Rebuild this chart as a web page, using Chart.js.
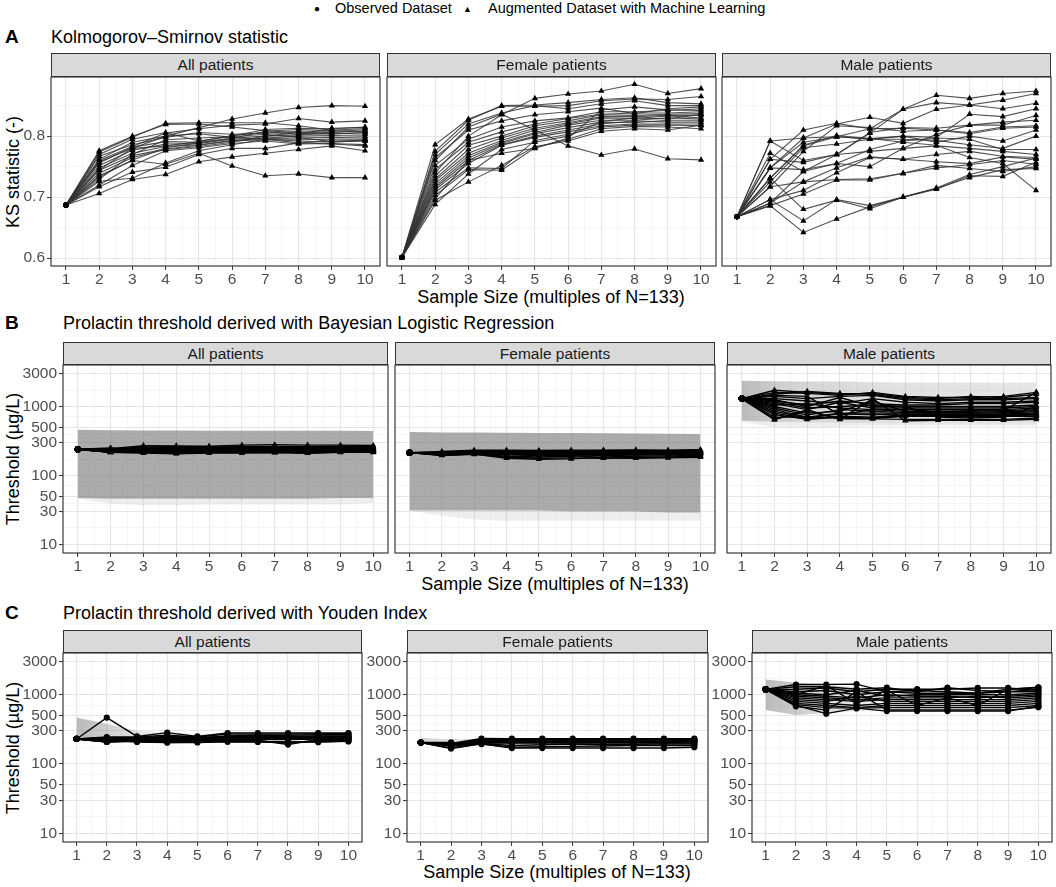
<!DOCTYPE html>
<html lang="en">
<head>
  <title>KS statistic and prolactin thresholds by sample size</title>
  <meta charset="UTF-8">
  <script src="https://cdn.jsdelivr.net/npm/chart.js@4.4.1/dist/chart.umd.min.js"></script>
  <style>
    * { margin: 0; padding: 0; box-sizing: border-box; }
    body { background: white; font-family: "Liberation Sans", Arial, sans-serif; }
    #page { position: relative; width: 1056px; height: 887px; overflow: hidden; }
    .txt { position: absolute; white-space: nowrap; color: #000; }
    .tag { font-weight: bold; font-size: 19px; line-height: 22px; }
    .title { font-size: 18px; line-height: 22px; }
    .axt { font-size: 18px; line-height: 22px; transform: translate(-50%, -50%); }
    .yaxt { font-size: 18px; line-height: 22px; transform: translate(-50%, -50%) rotate(-90deg); }
    .legend { font-size: 14.5px; line-height: 16px; }
    .strip { position: absolute; background: #d9d9d9; border: 1px solid #333; font-size: 15.5px; color: #1a1a1a; text-align: center; z-index: 2; }
    canvas { position: absolute; }
  </style>
</head>
<body>
<div id="page">
  <div class="txt legend" style="left:314px; top:0px;"><span style="font-size:10px; position:relative; top:-1px;">●</span></div>
  <div class="txt legend" style="left:335px; top:0px;">Observed Dataset</div>
  <div class="txt legend" style="left:463px; top:0px;"><span style="font-size:9px; position:relative; top:-1px;">▲</span></div>
  <div class="txt legend" style="left:488px; top:0px;">Augmented Dataset with Machine Learning</div>

  <div class="txt tag" style="left:5px; top:26px;">A</div>
  <div class="txt title" style="left:51px; top:26px;">Kolmogorov–Smirnov statistic</div>
  <div class="txt tag" style="left:5px; top:312px;">B</div>
  <div class="txt title" style="left:63px; top:312px;">Prolactin threshold derived with Bayesian Logistic Regression</div>
  <div class="txt tag" style="left:5px; top:602px;">C</div>
  <div class="txt title" style="left:63px; top:602px;">Prolactin threshold derived with Youden Index</div>

  <div class="txt axt" style="left:551px; top:297px;">Sample Size (multiples of N=133)</div>
  <div class="txt axt" style="left:555px; top:584px;">Sample Size (multiples of N=133)</div>
  <div class="txt axt" style="left:557px; top:872px;">Sample Size (multiples of N=133)</div>

  <div class="txt yaxt" style="left:13px; top:172px;">KS statistic (-)</div>
  <div class="txt yaxt" style="left:13px; top:459px;">Threshold (µg/L)</div>
  <div class="txt yaxt" style="left:13px; top:748px;">Threshold (µg/L)</div>
</div>

<script>
  /************************************************************************
                               Data
  *************************************************************************/
  const sampleSizes = [1, 2, 3, 4, 5, 6, 7, 8, 9, 10];
  const ksTicks = [0.6, 0.7, 0.8];
  const thresholdTicks = [10, 30, 50, 100, 300, 500, 1000, 3000];
  const facetNames = ['All patients', 'Female patients', 'Male patients'];

  // A: KS statistic. Observed value at 1, augmented runs at 2..10
  const ksAllObs = 0.687;
  const ksAll = [
    [0.745, 0.780, 0.800, 0.814, 0.828, 0.838, 0.847, 0.850, 0.849],
    [0.760, 0.783, 0.805, 0.812, 0.818, 0.820, 0.829, 0.823, 0.825],
    [0.735, 0.760, 0.754, 0.772, 0.751, 0.735, 0.738, 0.732, 0.732],
    [0.706, 0.729, 0.737, 0.758, 0.766, 0.772, 0.778, 0.784, 0.776],
    [0.717, 0.741, 0.749, 0.770, 0.780, 0.780, 0.789, 0.787, 0.784],
    [0.726, 0.731, 0.756, 0.776, 0.786, 0.795, 0.792, 0.790, 0.793],
    [0.774, 0.798, 0.821, 0.822, 0.822, 0.822, 0.817, 0.810, 0.812],
    [0.776, 0.800, 0.819, 0.820, 0.815, 0.809, 0.805, 0.803, 0.806],
    [0.770, 0.795, 0.806, 0.792, 0.800, 0.811, 0.813, 0.812, 0.815],
    [0.767, 0.786, 0.798, 0.806, 0.803, 0.805, 0.808, 0.808, 0.810],
    [0.756, 0.782, 0.791, 0.790, 0.797, 0.800, 0.802, 0.805, 0.803],
    [0.752, 0.777, 0.787, 0.788, 0.795, 0.797, 0.800, 0.801, 0.800],
    [0.748, 0.772, 0.783, 0.786, 0.793, 0.796, 0.797, 0.798, 0.797],
    [0.744, 0.768, 0.779, 0.785, 0.792, 0.794, 0.794, 0.795, 0.795],
    [0.739, 0.765, 0.778, 0.783, 0.790, 0.800, 0.806, 0.806, 0.808],
    [0.733, 0.761, 0.781, 0.789, 0.796, 0.808, 0.811, 0.809, 0.806],
    [0.729, 0.770, 0.794, 0.797, 0.799, 0.803, 0.798, 0.791, 0.792],
    [0.762, 0.790, 0.800, 0.804, 0.798, 0.795, 0.789, 0.792, 0.793],
    [0.758, 0.780, 0.784, 0.791, 0.801, 0.806, 0.803, 0.813, 0.814],
    [0.720, 0.752, 0.776, 0.781, 0.788, 0.792, 0.787, 0.788, 0.786]
  ];

  const ksFemaleObs = 0.601;
  const ksFemale = [
    [0.740, 0.800, 0.835, 0.862, 0.869, 0.874, 0.885, 0.870, 0.878],
    [0.760, 0.815, 0.836, 0.810, 0.784, 0.769, 0.779, 0.763, 0.761],
    [0.786, 0.828, 0.849, 0.849, 0.850, 0.858, 0.861, 0.860, 0.865],
    [0.775, 0.826, 0.850, 0.851, 0.855, 0.860, 0.863, 0.855, 0.853],
    [0.770, 0.820, 0.838, 0.850, 0.845, 0.853, 0.858, 0.850, 0.850],
    [0.765, 0.810, 0.825, 0.835, 0.840, 0.846, 0.837, 0.845, 0.848],
    [0.752, 0.795, 0.815, 0.825, 0.830, 0.840, 0.840, 0.842, 0.845],
    [0.745, 0.790, 0.807, 0.820, 0.829, 0.836, 0.838, 0.838, 0.840],
    [0.735, 0.785, 0.800, 0.817, 0.825, 0.835, 0.834, 0.836, 0.837],
    [0.730, 0.778, 0.797, 0.813, 0.822, 0.832, 0.832, 0.834, 0.834],
    [0.727, 0.772, 0.793, 0.810, 0.820, 0.830, 0.829, 0.833, 0.830],
    [0.722, 0.768, 0.790, 0.806, 0.818, 0.826, 0.826, 0.830, 0.828],
    [0.718, 0.764, 0.788, 0.804, 0.814, 0.823, 0.822, 0.826, 0.826],
    [0.715, 0.760, 0.786, 0.800, 0.810, 0.820, 0.825, 0.823, 0.823],
    [0.712, 0.755, 0.785, 0.798, 0.807, 0.817, 0.820, 0.820, 0.820],
    [0.708, 0.748, 0.747, 0.793, 0.803, 0.815, 0.818, 0.818, 0.817],
    [0.703, 0.745, 0.744, 0.781, 0.795, 0.812, 0.816, 0.815, 0.812],
    [0.695, 0.725, 0.752, 0.783, 0.792, 0.808, 0.812, 0.810, 0.818],
    [0.688, 0.738, 0.778, 0.790, 0.800, 0.824, 0.830, 0.828, 0.836],
    [0.698, 0.760, 0.772, 0.780, 0.797, 0.843, 0.848, 0.843, 0.842]
  ];

  const ksMaleObs = 0.668;
  const ksMale = [
    [0.690, 0.742, 0.770, 0.805, 0.844, 0.867, 0.862, 0.870, 0.874],
    [0.731, 0.784, 0.799, 0.812, 0.844, 0.855, 0.851, 0.859, 0.870],
    [0.748, 0.797, 0.820, 0.831, 0.821, 0.844, 0.851, 0.845, 0.854],
    [0.792, 0.797, 0.799, 0.795, 0.800, 0.798, 0.836, 0.832, 0.845],
    [0.792, 0.760, 0.770, 0.806, 0.814, 0.813, 0.818, 0.818, 0.834],
    [0.772, 0.742, 0.755, 0.750, 0.780, 0.803, 0.818, 0.823, 0.826],
    [0.762, 0.810, 0.821, 0.812, 0.813, 0.810, 0.806, 0.815, 0.817],
    [0.717, 0.775, 0.817, 0.814, 0.808, 0.810, 0.804, 0.813, 0.815],
    [0.731, 0.785, 0.801, 0.796, 0.800, 0.790, 0.800, 0.792, 0.810],
    [0.725, 0.781, 0.787, 0.795, 0.795, 0.793, 0.786, 0.780, 0.800],
    [0.748, 0.745, 0.755, 0.778, 0.792, 0.797, 0.795, 0.778, 0.778],
    [0.762, 0.757, 0.770, 0.775, 0.780, 0.784, 0.780, 0.775, 0.770],
    [0.717, 0.725, 0.748, 0.766, 0.762, 0.770, 0.775, 0.767, 0.765],
    [0.696, 0.711, 0.740, 0.765, 0.762, 0.758, 0.755, 0.766, 0.762],
    [0.686, 0.705, 0.728, 0.728, 0.739, 0.748, 0.753, 0.760, 0.754],
    [0.690, 0.725, 0.729, 0.730, 0.739, 0.752, 0.747, 0.742, 0.750],
    [0.731, 0.680, 0.695, 0.681, 0.700, 0.714, 0.732, 0.745, 0.747],
    [0.696, 0.661, 0.696, 0.686, 0.700, 0.713, 0.735, 0.734, 0.757],
    [0.686, 0.642, 0.664, 0.684, 0.700, 0.715, 0.737, 0.750, 0.764],
    [0.748, 0.790, 0.799, 0.796, 0.790, 0.785, 0.765, 0.755, 0.711]
  ];

  // B: threshold from Bayesian logistic regression (µg/L)
  const blrAllObs = 240;
  const blrAll = [
    [245, 270, 268, 265, 275, 278, 275, 275, 272],
    [240, 258, 262, 260, 262, 262, 262, 265, 260],
    [236, 250, 255, 252, 250, 252, 255, 258, 255],
    [232, 245, 248, 246, 246, 248, 250, 252, 250],
    [230, 242, 244, 242, 243, 244, 246, 248, 246],
    [228, 238, 240, 240, 240, 240, 242, 244, 242],
    [226, 235, 236, 236, 236, 238, 240, 240, 240],
    [225, 232, 233, 234, 234, 236, 236, 238, 236],
    [224, 230, 230, 232, 232, 233, 234, 236, 234],
    [222, 228, 228, 230, 230, 231, 232, 234, 232],
    [221, 226, 226, 228, 228, 229, 230, 232, 230],
    [220, 224, 224, 226, 226, 227, 228, 230, 228],
    [220, 222, 222, 224, 224, 225, 226, 228, 226],
    [219, 220, 220, 222, 222, 223, 224, 226, 225],
    [218, 218, 218, 220, 220, 222, 222, 224, 224],
    [218, 217, 215, 218, 218, 220, 220, 222, 222],
    [217, 216, 212, 216, 216, 218, 216, 220, 220],
    [216, 214, 208, 214, 214, 216, 212, 218, 218],
    [216, 212, 206, 212, 212, 214, 210, 216, 216],
    [250, 235, 245, 255, 250, 258, 258, 262, 264]
  ];
  const blrAllHigh = [460, 452, 448, 447, 446, 446, 445, 444, 443, 440];
  const blrAllLow = [47, 46, 46, 46, 46, 46, 46, 46, 47, 47];
  const blrAllTail = [46, 39, 37, 37, 38, 38, 38, 38, 38, 40];

  const blrFemaleObs = 214;
  const blrFemale = [
    [222, 232, 232, 230, 232, 233, 235, 232, 237],
    [218, 228, 228, 226, 228, 229, 230, 228, 232],
    [216, 225, 225, 224, 225, 226, 226, 225, 228],
    [214, 222, 222, 222, 222, 223, 224, 222, 225],
    [212, 220, 220, 220, 220, 220, 221, 220, 222],
    [210, 218, 218, 217, 218, 218, 218, 218, 220],
    [208, 216, 215, 215, 216, 215, 216, 216, 218],
    [206, 214, 213, 213, 214, 212, 214, 214, 215],
    [204, 212, 211, 210, 212, 210, 212, 212, 212],
    [202, 210, 208, 206, 208, 206, 208, 208, 210],
    [200, 208, 204, 200, 204, 200, 204, 204, 206],
    [198, 206, 190, 185, 190, 195, 198, 200, 202],
    [196, 204, 178, 172, 174, 185, 190, 192, 195],
    [195, 202, 185, 178, 180, 178, 182, 185, 190],
    [212, 215, 200, 195, 198, 180, 178, 180, 184]
  ];
  const blrFemaleHigh = [425, 420, 418, 416, 414, 412, 410, 406, 402, 398];
  const blrFemaleLow = [31, 31, 31, 31, 31, 30, 30, 30, 29, 29];
  const blrFemaleTail = [31, 26, 23, 22, 22, 22, 22, 22, 22, 22];

  const blrMaleObs = 1300;
  const blrMale = [
    [1720, 1600, 1500, 1550, 1350, 1300, 1400, 1350, 1500],
    [1600, 1550, 1450, 1600, 1400, 1350, 1350, 1400, 1600],
    [1500, 1650, 1550, 1500, 1300, 1250, 1300, 1300, 1350],
    [1400, 1300, 1400, 1450, 1250, 1200, 1250, 1250, 1300],
    [1300, 1200, 1100, 1300, 1150, 1100, 1150, 1150, 1200],
    [1200, 1050, 1200, 1100, 1050, 1050, 1100, 1100, 1150],
    [1150, 950, 1000, 1050, 1000, 1000, 1000, 1000, 1050],
    [1100, 900, 1150, 950, 950, 950, 950, 950, 1000],
    [1050, 1100, 950, 900, 900, 900, 900, 900, 950],
    [1000, 800, 850, 1200, 850, 850, 850, 870, 900],
    [950, 750, 900, 850, 820, 820, 820, 840, 870],
    [900, 700, 800, 800, 800, 800, 800, 810, 840],
    [850, 680, 780, 760, 780, 780, 780, 780, 800],
    [800, 660, 720, 700, 760, 760, 760, 760, 770],
    [760, 650, 700, 680, 740, 740, 740, 740, 750],
    [700, 700, 680, 670, 720, 720, 720, 720, 720],
    [660, 850, 660, 660, 650, 650, 650, 650, 680],
    [640, 900, 650, 1300, 620, 630, 630, 630, 650],
    [1250, 1000, 1350, 1000, 1000, 700, 680, 700, 1000],
    [1450, 1400, 760, 900, 850, 900, 880, 880, 1600]
  ];
  const blrMaleHigh = [2350, 2320, 2300, 2300, 2250, 2220, 2200, 2200, 2200, 2200];
  const blrMaleLow = [620, 600, 590, 580, 570, 565, 560, 560, 560, 560];
  const blrMaleTail = [600, 500, 500, 510, 520, 520, 520, 520, 520, 520];

  // C: threshold from the Youden index (µg/L)
  const youAllObs = 230;
  const youAll = [
    [467, 250, 284, 250, 280, 280, 280, 280, 280],
    [245, 245, 260, 245, 270, 270, 270, 275, 275],
    [240, 240, 250, 240, 255, 260, 260, 265, 265],
    [235, 235, 245, 238, 250, 250, 250, 255, 255],
    [230, 232, 240, 235, 245, 245, 245, 250, 250],
    [225, 230, 235, 232, 240, 240, 240, 245, 245],
    [220, 228, 230, 230, 235, 235, 235, 240, 240],
    [215, 225, 225, 228, 230, 230, 230, 235, 235],
    [212, 222, 220, 225, 225, 225, 225, 230, 230],
    [208, 220, 215, 222, 220, 220, 191, 225, 225],
    [208, 215, 210, 215, 215, 215, 200, 220, 220],
    [210, 212, 205, 208, 212, 210, 205, 210, 215],
    [225, 208, 205, 205, 210, 208, 210, 207, 212]
  ];
  const youAllHigh = [470, 380, 300, 285, 275, 270, 270, 270, 270, 270];
  const youAllLow = [225, 215, 205, 200, 200, 205, 205, 195, 205, 210];

  const youFemaleObs = 204;
  const youFemale = [
    [198, 233, 232, 232, 232, 232, 232, 232, 232],
    [195, 225, 225, 228, 226, 228, 226, 228, 228],
    [192, 220, 220, 222, 220, 222, 222, 222, 222],
    [190, 215, 215, 215, 215, 215, 215, 215, 218],
    [187, 210, 210, 210, 210, 210, 210, 210, 212],
    [185, 205, 205, 205, 205, 205, 205, 205, 208],
    [180, 200, 200, 200, 200, 200, 200, 200, 200],
    [170, 198, 185, 190, 195, 190, 192, 195, 195],
    [168, 196, 170, 170, 170, 170, 170, 170, 175],
    [205, 194, 175, 178, 180, 182, 185, 185, 185]
  ];
  const youFemaleHigh = [240, 228, 232, 232, 232, 232, 232, 232, 232, 232];
  const youFemaleLow = [200, 172, 188, 180, 180, 180, 180, 180, 180, 180];

  const youMaleObs = 1192;
  const youMale = [
    [1400, 1400, 1420, 1100, 1150, 1100, 1050, 1200, 1260],
    [1300, 1300, 1200, 1260, 1100, 1260, 1150, 1100, 1200],
    [1200, 1250, 1100, 1200, 1200, 1200, 1250, 1250, 1150],
    [1100, 1150, 1000, 1100, 1050, 1050, 1050, 1100, 1100],
    [1050, 1000, 1150, 950, 1000, 1000, 1000, 1000, 1050],
    [1000, 950, 900, 1000, 950, 950, 900, 950, 1000],
    [950, 900, 850, 900, 900, 900, 950, 900, 950],
    [900, 850, 800, 850, 850, 850, 850, 850, 900],
    [850, 800, 950, 800, 800, 800, 800, 800, 850],
    [800, 750, 700, 750, 750, 750, 750, 750, 800],
    [750, 700, 650, 700, 700, 700, 700, 700, 750],
    [720, 650, 640, 650, 650, 650, 650, 650, 700],
    [700, 533, 640, 580, 580, 580, 580, 580, 680],
    [680, 600, 1100, 600, 600, 600, 600, 600, 660],
    [1000, 1350, 750, 1150, 700, 900, 700, 1200, 1280]
  ];
  const youMaleHigh = [1660, 1500, 1350, 1300, 1250, 1250, 1250, 1250, 1250, 1250];
  const youMaleLow = [600, 510, 540, 580, 580, 580, 580, 580, 600, 620];

  /************************************************************************
                               Helpers
  *************************************************************************/
  Chart.defaults.font.family = '"Liberation Sans", Arial, sans-serif';

  // major breaks plus ggplot-style minor breaks halfway between them
  function withMinor(major, log, min, max) {
    const mid = (a, b) => log ? Math.sqrt(a * b) : (a + b) / 2;
    const ext = (a, b) => log ? a * a / b : 2 * a - b;
    const out = [{ value: mid(major[0], ext(major[0], major[1])), minor: true }];
    major.forEach((v, i) => {
      out.push({ value: v });
      if (i < major.length - 1) out.push({ value: mid(v, major[i + 1]), minor: true });
    });
    const n = major.length;
    out.push({ value: mid(major[n - 1], ext(major[n - 1], major[n - 2])), minor: true });
    return out.filter(t => t.value >= min && t.value <= max);
  }

  function gridOpts(drawTicks) {
    return {
      color: c => c.tick && c.tick.minor ? '#f1f1f1' : '#e5e5e5',
      lineWidth: c => c.tick && c.tick.minor ? 0.7 : 1.1,
      drawTicks: drawTicks,
      tickLength: 4,
      tickWidth: 1,
      tickColor: c => c.tick && c.tick.minor ? 'rgba(0,0,0,0)' : '#333'
    };
  }

  function tickLabel(v, i, ticks) {
    return ticks[i].minor ? '' : String(v);
  }

  function runDatasets(obs, runs, style) {
    return runs.map(r => ({
      data: [obs].concat(r).map((y, i) => ({ x: sampleSizes[i], y: y })),
      borderColor: style.line,
      borderWidth: style.width,
      pointStyle: c => c.dataIndex === 0 ? 'circle' : style.marker,
      pointRadius: c => c.dataIndex === 0 ? style.obsR : style.r,
      pointBackgroundColor: '#000',
      pointBorderWidth: 0,
      pointHoverRadius: 0,
      fill: false
    }));
  }

  // horizontal fade for the interval ribbons
  function fade(stops) {
    return c => {
      const ch = c.chart;
      const x = ch.scales && ch.scales.x;
      if (!ch.chartArea || !x) return stops[0][1];
      const x0 = x.getPixelForValue(sampleSizes[0]);
      const x1 = x.getPixelForValue(sampleSizes[sampleSizes.length - 1]);
      const g = ch.ctx.createLinearGradient(x0, 0, x1, 0);
      stops.forEach(s => g.addColorStop(s[0], s[1]));
      return g;
    };
  }

  function band(low, high, color) {
    const pts = arr => arr.map((y, i) => ({ x: sampleSizes[i], y: y }));
    return [
      { data: pts(low), borderWidth: 0, borderColor: 'rgba(0,0,0,0)', pointRadius: 0, fill: false },
      { data: pts(high), borderWidth: 0, borderColor: 'rgba(0,0,0,0)', pointRadius: 0, fill: '-1', backgroundColor: color }
    ];
  }

  const panelBox = {
    id: 'panelBox',
    afterDatasetsDraw(chart) {
      const { ctx, chartArea: a } = chart;
      ctx.save();
      ctx.strokeStyle = '#3a3a3a';
      ctx.lineWidth = 1.2;
      ctx.strokeRect(a.left, a.top, a.right - a.left, a.bottom - a.top);
      ctx.restore();
    }
  };

  const page = document.getElementById('page');

  function makePanel(p) {
    const padL = p.showY ? 50 : 10;
    const padR = 12;
    const xAxisH = 24;
    const stripH = p.stripH;

    const strip = document.createElement('div');
    strip.className = 'strip';
    strip.style.left = p.left + 'px';
    strip.style.top = p.top + 'px';
    strip.style.width = (p.right - p.left) + 'px';
    strip.style.height = stripH + 'px';
    strip.style.lineHeight = (stripH - 2) + 'px';
    strip.textContent = p.name;
    page.appendChild(strip);

    const canvas = document.createElement('canvas');
    const w = p.right - p.left + padL + padR;
    const h = p.bottom - p.top + xAxisH;
    canvas.width = w;
    canvas.height = h;
    canvas.style.left = (p.left - padL) + 'px';
    canvas.style.top = p.top + 'px';
    canvas.style.width = w + 'px';
    canvas.style.height = h + 'px';
    page.appendChild(canvas);

    const xMin = 0.55, xMax = 10.45;
    new Chart(canvas.getContext('2d'), {
      type: 'line',
      data: { datasets: p.datasets },
      options: {
        responsive: false,
        animation: false,
        events: [],
        layout: { padding: { left: p.showY ? 0 : padL, right: padR, top: stripH, bottom: 0 } },
        plugins: { legend: { display: false }, tooltip: { enabled: false } },
        scales: {
          x: {
            type: 'linear', position: 'bottom', min: xMin, max: xMax, bounds: 'data',
            afterBuildTicks: s => { s.ticks = withMinor(sampleSizes, false, xMin, xMax); },
            afterFit: s => { s.height = xAxisH; },
            ticks: { autoSkip: false, maxRotation: 0, padding: 0, color: '#4d4d4d', font: { size: 15.5 }, callback: tickLabel },
            grid: gridOpts(true),
            border: { display: false }
          },
          y: {
            type: p.yType, position: 'left', min: p.yMin, max: p.yMax, bounds: 'data',
            afterBuildTicks: s => { s.ticks = withMinor(p.yTicks, p.yType === 'logarithmic', p.yMin, p.yMax); },
            afterFit: s => { s.width = p.showY ? padL : 0; },
            ticks: { display: p.showY, autoSkip: false, padding: 2, color: '#4d4d4d', font: { size: 15.5 }, callback: tickLabel },
            grid: gridOpts(p.showY),
            border: { display: false }
          }
        }
      },
      plugins: [panelBox]
    });
  }

  /************************************************************************
                               Panels
  *************************************************************************/
  const ksStyle = { line: 'rgba(51,51,51,0.85)', width: 1.1, marker: 'triangle', r: 3.6, obsR: 2.6 };
  const blrStyle = { line: '#000', width: 1.4, marker: 'triangle', r: 3.6, obsR: 3.1 };
  const youStyle = { line: '#000', width: 1.4, marker: 'circle', r: 3.1, obsR: 3.1 };

  const ksRange = { yType: 'linear', yMin: 0.587, yMax: 0.897, yTicks: ksTicks };
  const thrRange = { yType: 'logarithmic', yMin: 7.52, yMax: 3990, yTicks: thresholdTicks };

  const darkBand = 'rgba(120,120,120,0.62)';
  const paleBand = 'rgba(150,150,150,0.16)';

  const rowA = { top: 53, bottom: 266, stripH: 24 };
  const rowB = { top: 342, bottom: 553, stripH: 23 };
  const rowC = { top: 630, bottom: 842, stripH: 23 };

  const panels = [
    Object.assign({ name: facetNames[0], left: 51, right: 380, showY: true,
      datasets: runDatasets(ksAllObs, ksAll, ksStyle) }, rowA, ksRange),
    Object.assign({ name: facetNames[1], left: 387, right: 716, showY: false,
      datasets: runDatasets(ksFemaleObs, ksFemale, ksStyle) }, rowA, ksRange),
    Object.assign({ name: facetNames[2], left: 722, right: 1051, showY: false,
      datasets: runDatasets(ksMaleObs, ksMale, ksStyle) }, rowA, ksRange),

    Object.assign({ name: facetNames[0], left: 63, right: 388, showY: true,
      datasets: runDatasets(blrAllObs, blrAll, blrStyle)
        .concat(band(blrAllLow, blrAllHigh, darkBand))
        .concat(band(blrAllTail, blrAllLow, paleBand)) }, rowB, thrRange),
    Object.assign({ name: facetNames[1], left: 395, right: 715, showY: false,
      datasets: runDatasets(blrFemaleObs, blrFemale, blrStyle)
        .concat(band(blrFemaleLow, blrFemaleHigh, darkBand))
        .concat(band(blrFemaleTail, blrFemaleLow, paleBand)) }, rowB, thrRange),
    Object.assign({ name: facetNames[2], left: 727, right: 1051, showY: false,
      datasets: runDatasets(blrMaleObs, blrMale, blrStyle)
        .concat(band(blrMaleLow, blrMaleHigh, fade([[0, 'rgba(130,130,130,0.55)'], [0.15, 'rgba(130,130,130,0.36)'], [0.5, 'rgba(130,130,130,0.24)'], [1, 'rgba(130,130,130,0.2)']])))
        .concat(band(blrMaleTail, blrMaleLow, paleBand)) }, rowB, thrRange),

    Object.assign({ name: facetNames[0], left: 63, right: 362, showY: true,
      datasets: runDatasets(youAllObs, youAll, youStyle)
        .concat(band(youAllLow, youAllHigh, fade([[0, 'rgba(130,130,130,0.55)'], [0.25, 'rgba(130,130,130,0.2)'], [0.5, 'rgba(130,130,130,0.08)'], [1, 'rgba(130,130,130,0.04)']]))) }, rowC, thrRange),
    Object.assign({ name: facetNames[1], left: 407, right: 708, showY: true,
      datasets: runDatasets(youFemaleObs, youFemale, youStyle)
        .concat(band(youFemaleLow, youFemaleHigh, fade([[0, 'rgba(130,130,130,0.35)'], [0.25, 'rgba(130,130,130,0.15)'], [1, 'rgba(130,130,130,0.05)']]))) }, rowC, thrRange),
    Object.assign({ name: facetNames[2], left: 752, right: 1052, showY: true,
      datasets: runDatasets(youMaleObs, youMale, youStyle)
        .concat(band(youMaleLow, youMaleHigh, fade([[0, 'rgba(130,130,130,0.55)'], [0.2, 'rgba(130,130,130,0.3)'], [0.45, 'rgba(130,130,130,0.1)'], [1, 'rgba(130,130,130,0.05)']]))) }, rowC, thrRange)
  ];

  panels.forEach(makePanel);
</script>
</body>
</html>
